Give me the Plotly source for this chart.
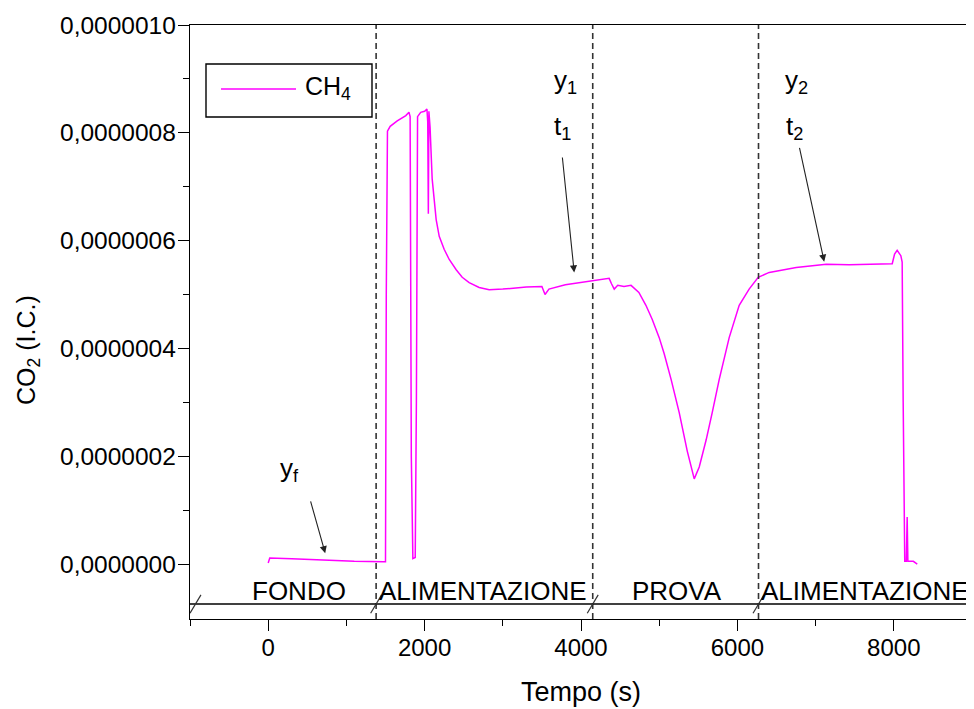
import plotly.graph_objects as go

# ---- data ----
tempo = [0, 20, 300, 700, 1100, 1480, 1500, 1510, 1525, 1560, 1650, 1760, 1800, 1815, 1830, 1850,
         1880, 1895, 1910, 1950, 2000, 2030, 2040, 2048, 2055, 2070, 2097, 2148, 2187, 2250, 2315,
         2404, 2481, 2570, 2698, 2826, 3000, 3300, 3500, 3540, 3590, 3800, 4000, 4150, 4360, 4390,
         4425, 4470, 4550, 4640, 4740, 4830, 4910, 5000, 5064, 5153, 5256, 5358, 5448, 5512, 5600,
         5678, 5767, 5895, 6023, 6150, 6266, 6407, 6752, 7136, 7430, 7700, 7980, 8010, 8043, 8090,
         8107, 8120, 8140, 8160, 8171, 8180, 8250, 8300]
co2 = [0.2e-8, 1.1e-8, 1.0e-8, 0.7e-8, 0.5e-8, 0.4e-8, 0.4e-8, 5.0e-7, 8.03e-7, 8.12e-7, 8.22e-7,
       8.32e-7, 8.38e-7, 8.30e-7, 2.0e-7, 0.1e-7, 0.12e-7, 3.0e-7, 8.30e-7, 8.38e-7, 8.40e-7,
       8.44e-7, 8.2e-7, 6.5e-7, 8.4e-7, 8.1e-7, 7.14e-7, 6.39e-7, 6.08e-7, 5.84e-7, 5.65e-7,
       5.46e-7, 5.32e-7, 5.22e-7, 5.13e-7, 5.09e-7, 5.10e-7, 5.14e-7, 5.15e-7, 5.0e-7, 5.1e-7,
       5.18e-7, 5.22e-7, 5.25e-7, 5.30e-7, 5.2e-7, 5.1e-7, 5.17e-7, 5.15e-7, 5.17e-7, 5.04e-7,
       4.8e-7, 4.54e-7, 4.2e-7, 3.9e-7, 3.42e-7, 2.81e-7, 2.1e-7, 1.58e-7, 1.8e-7, 2.3e-7,
       2.81e-7, 3.42e-7, 4.2e-7, 4.8e-7, 5.1e-7, 5.32e-7, 5.41e-7, 5.50e-7, 5.56e-7, 5.55e-7,
       5.56e-7, 5.57e-7, 5.75e-7, 5.82e-7, 5.72e-7, 5.6e-7, 3.0e-7, 0.05e-7, 0.05e-7, 0.87e-7,
       0.05e-7, 0.05e-7, 0.0]

series_name = "CH<sub>4</sub>"
y_tickvals = [0, 2e-7, 4e-7, 6e-7, 8e-7, 1e-6]
y_ticktext = ["0,0000000", "0,0000002", "0,0000004", "0,0000006", "0,0000008", "0,0000010"]
x_tickvals = [0, 2000, 4000, 6000, 8000]
x_ticktext = ["0", "2000", "4000", "6000", "8000"]

phase_bounds = [1380, 4150, 6270]
phase_labels = ["FONDO", "ALIMENTAZIONE", "PROVA", "ALIMENTAZIONE"]
phase_centers = [396, 2750, 5230, 7634]

FONT = "Liberation Sans, Arial, sans-serif"
X0, X1 = -1000, 9000
Y0, Y1 = -1.02e-7, 1.0e-6
BREAK_Y = -0.743e-7

# page is offset by the 8px body margin; target plot area in screen px: x 190-972, y 25-619
OFF = 8
W, H = 974 - OFF, 709 - OFF
L, T = 190 - OFF, 25 - OFF
R = W - (972 - OFF)
B = H - (619 - OFF)
pw, ph = W - L - R, H - T - B


def px(sx, sy):
    """screen pixel -> paper coordinates"""
    return (sx - OFF - L) / pw, 1 - (sy - OFF - T) / ph


fig = go.Figure()
fig.add_trace(go.Scatter(x=tempo, y=co2, mode="lines", name=series_name,
                         line=dict(color="#FF00FF", width=1.5), showlegend=False))

shapes = []
for b in phase_bounds:
    shapes.append(dict(type="line", x0=b, x1=b, y0=Y0, y1=Y1, xref="x", yref="y",
                       line=dict(color="#333333", width=1.6, dash="6px,4px")))
shapes.append(dict(type="line", x0=X0, x1=X1, y0=BREAK_Y, y1=BREAK_Y, xref="x", yref="y",
                   line=dict(color="black", width=1.4)))
for b in [-930] + phase_bounds:
    shapes.append(dict(type="line", x0=b - 70, x1=b + 70, y0=BREAK_Y - 0.017e-6,
                       y1=BREAK_Y + 0.017e-6, xref="x", yref="y",
                       line=dict(color="#333333", width=1.2)))

# manual legend
bx0, by0 = px(206, 64)
bx1, by1 = px(372, 117)
shapes.append(dict(type="rect", x0=bx0, x1=bx1, y0=by1, y1=by0, xref="paper", yref="paper",
                   line=dict(color="black", width=1.4), fillcolor="rgba(0,0,0,0)"))
lx0, ly = px(221, 89)
lx1, _ = px(296, 89)
shapes.append(dict(type="line", x0=lx0, x1=lx1, y0=ly, y1=ly, xref="paper", yref="paper",
                   line=dict(color="#FF00FF", width=1.5)))

annotations = []
tx, ty = px(303, 88)
annotations.append(dict(x=tx, y=ty, xref="paper", yref="paper", xanchor="left", yanchor="middle",
                        text=series_name, showarrow=False,
                        font=dict(family=FONT, size=25, color="black")))

for lab, cx in zip(phase_labels, phase_centers):
    annotations.append(dict(x=cx, y=-0.050e-6, xref="x", yref="y", text=lab, showarrow=False,
                            font=dict(family=FONT, size=26, color="black")))

yx, yy = px(28, 350)
annotations.append(dict(x=yx, y=yy, xref="paper", yref="paper", text="CO<sub>2</sub> (I.C.)",
                        textangle=-90, showarrow=False, xanchor="center", yanchor="middle",
                        font=dict(family=FONT, size=25, color="black")))

ann_font = dict(family=FONT, size=26, color="black")
annotations += [
    dict(x=268, y=0.175e-6, xref="x", yref="y", text="y<sub>f</sub>", showarrow=False, font=ann_font),
    dict(x=3798, y=0.895e-6, xref="x", yref="y", text="y<sub>1</sub>", showarrow=False, font=ann_font),
    dict(x=3760, y=0.81e-6, xref="x", yref="y", text="t<sub>1</sub>", showarrow=False, font=ann_font),
    dict(x=6752, y=0.895e-6, xref="x", yref="y", text="y<sub>2</sub>", showarrow=False, font=ann_font),
    dict(x=6726, y=0.81e-6, xref="x", yref="y", text="t<sub>2</sub>", showarrow=False, font=ann_font),
]
for (ax_, ay_, hx, hy) in [(537, 0.119e-6, 729, 0.020e-6),
                           (3760, 0.757e-6, 3913, 0.541e-6),
                           (6790, 0.775e-6, 7110, 0.561e-6)]:
    annotations.append(dict(x=hx, y=hy, ax=ax_, ay=ay_, xref="x", yref="y", axref="x", ayref="y",
                            text="", showarrow=True, arrowhead=2, arrowsize=1.3, arrowwidth=1.1,
                            arrowcolor="#222222"))

fig.update_layout(
    shapes=shapes, annotations=annotations,
    width=W, height=H, margin=dict(l=L, r=R, t=T, b=B), autosize=False,
    paper_bgcolor="white", plot_bgcolor="white", showlegend=False,
    font=dict(family=FONT, color="black"),
    xaxis=dict(range=[X0, X1], tickmode="array", tickvals=x_tickvals, ticktext=x_ticktext,
               ticks="outside", ticklen=11, tickwidth=1.4, tickcolor="black",
               showline=True, linecolor="black", linewidth=1.4, mirror=True,
               showgrid=False, zeroline=False, ticklabelstandoff=-4,
               tickfont=dict(family=FONT, size=24, color="black"),
               minor=dict(tickmode="array", tickvals=[-1000, 1000, 3000, 5000, 7000, 9000],
                          ticks="outside", ticklen=6, tickwidth=1.4, tickcolor="black"),
               title=dict(text="Tempo (s)", font=dict(family=FONT, size=27, color="black"),
                          standoff=22)),
    yaxis=dict(range=[Y0, Y1], tickmode="array", tickvals=y_tickvals, ticktext=y_ticktext,
               ticks="outside", ticklen=11, tickwidth=1.4, tickcolor="black",
               showline=True, linecolor="black", linewidth=1.4, mirror=True,
               showgrid=False, zeroline=False, ticklabelstandoff=-3,
               tickfont=dict(family=FONT, size=24.5, color="black"),
               minor=dict(tickmode="array", tickvals=[1e-7, 3e-7, 5e-7, 7e-7, 9e-7],
                          ticks="outside", ticklen=6, tickwidth=1.4, tickcolor="black")),
)

fig.write_html("out.html")
